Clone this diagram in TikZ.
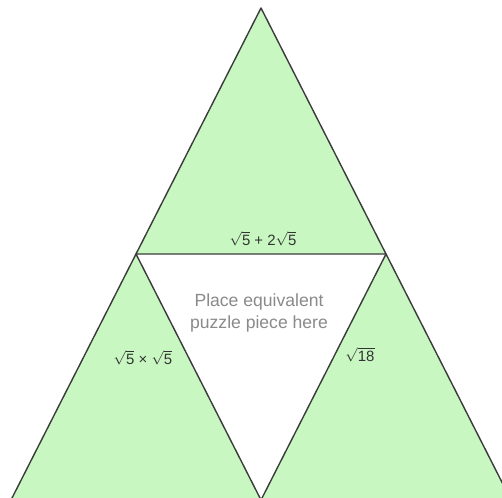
\documentclass[tikz,border=0pt]{standalone}
\usepackage{fontspec}
\setmainfont{Liberation Sans}
\definecolor{piecegreen}{HTML}{C8F7C2}
\definecolor{edgegray}{HTML}{3C3C3C}
\definecolor{labelgray}{HTML}{333333}
\definecolor{hintgray}{HTML}{8A8A8A}
\tikzset{
  piece/.style={fill=piecegreen, draw=edgegray, line width=0.8pt, line join=round},
  sqlabel/.style={text=labelgray, font=\fontsize{8.5}{10}\selectfont, inner sep=1pt},
  hint/.style={text=hintgray, font=\fontsize{10}{13}\selectfont, align=center}
}
\begin{document}
\begin{tikzpicture}[x=0.02cm, y=-0.02cm]
        \useasboundingbox (0,0) rectangle (502,497);
        \fill[white] (0,0) rectangle (502,497);
        \clip (0,0) rectangle (502,497);
        % ==== CORNERS ====
        \coordinate (top) at (261,8);
        \coordinate (midL) at (136,254);
        \coordinate (midR) at (386,254);
        \coordinate (botL) at (11,500);
        \coordinate (botM) at (261,500);
        \coordinate (botR) at (511,500);
        % ==== PUZZLE PIECES ====
        \draw[piece] (top) -- (midR) -- (midL) -- cycle;
        \draw[piece] (midL) -- (botM) -- (botL) -- cycle;
        \draw[piece] (midR) -- (botR) -- (botM) -- cycle;
        % ==== LABELS ====
        \node[sqlabel] (topText) at (263,239) {$\sqrt{\mbox{5}}$ + 2$\sqrt{\mbox{5}}$};
        \node[sqlabel] (leftText) at (143,358) {$\sqrt{\mbox{5}}$ × $\sqrt{\mbox{5}}$};
        \node[sqlabel] (rightText) at (360,355) {$\sqrt{\mbox{18}}$};
        \node[hint] (hintText) at (259,313) {Place equivalent\\puzzle piece here};
     \end{tikzpicture}
\end{document}
